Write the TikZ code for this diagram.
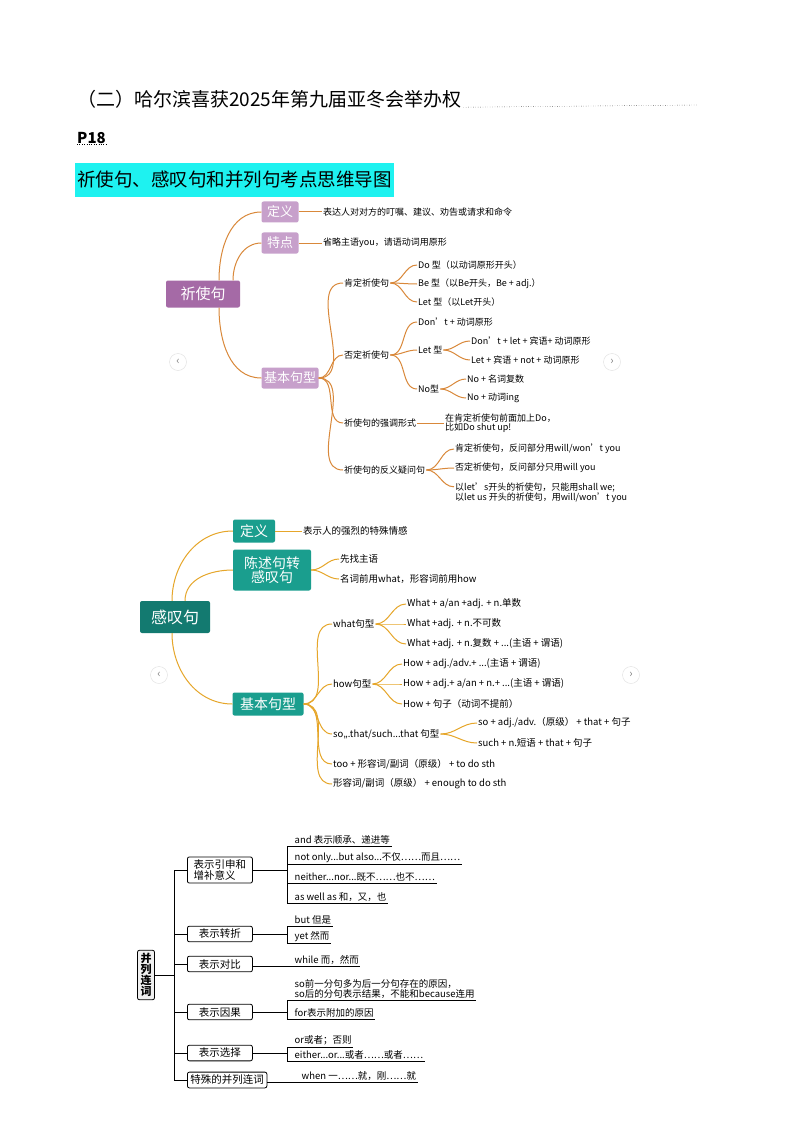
\documentclass[tikz,border=0pt]{standalone}
\usepackage{fontspec}
\setmainfont{Noto Sans CJK SC}
\definecolor{qpurple}{HTML}{A56AA6}
\definecolor{qlilac}{HTML}{C7A0CB}
\definecolor{qorange}{HTML}{D9883A}
\definecolor{gteal}{HTML}{1A9E8E}
\definecolor{gdark}{HTML}{137A70}
\definecolor{ggold}{HTML}{E6A62A}
\definecolor{hcyan}{HTML}{1EF2F0}
\newcommand{\fs}[1]{\fontsize{#1}{#1}\selectfont}
\newcommand{\ap}{\char"0027{}}
\tikzset{
  proot/.style={fill=qpurple,rounded corners=2pt,text=white,minimum width=74,minimum height=27,font=\fs{15}},
  pbox/.style={fill=qlilac,rounded corners=2pt,text=white,minimum width=37,minimum height=21,inner sep=1pt,font=\fs{13}},
  groot/.style={fill=gdark,rounded corners=2pt,text=white,minimum width=70,minimum height=32,font=\fs{16}},
  gbox/.style={fill=gteal,rounded corners=2pt,text=white,minimum width=42,minimum height=23,inner sep=2pt,font=\fs{14},align=center},
  leaf/.style={anchor=west,inner sep=1pt,font=\fs{9},align=left},
  gleaf/.style={anchor=west,inner sep=1pt,font=\fs{9.5},align=left},
  qline/.style={draw=qorange,line width=1pt},
  gline/.style={draw=ggold,line width=1pt},
  sbox/.style={draw,rounded corners=2pt,line width=0.8pt,inner sep=3pt,minimum width=65,font=\fs{10.5},align=left},
  sleaf/.style={anchor=south west,inner sep=1.5pt,font=\fs{9.5},align=left},
  chev/.style={circle,draw=gray!25,minimum size=17,inner sep=0pt,text=gray,font=\fs{11}}
}
\begin{document}
\begin{tikzpicture}[x=1pt,y=-1pt]
\useasboundingbox[fill=white] (0,0) rectangle (794,1123);

% header
\node[anchor=west,inner sep=0pt,font=\fs{19}] (ttl) at (77,99) {（二）哈尔滨喜获2025年第九届亚冬会举办权};
\draw[dotted] (ttl.south east) ++(2,-1) -- (697,105);
\node[anchor=west,inner sep=0pt,font=\bfseries\fs{15}] (page) at (77,138) {P18};
\draw[dotted] (page.south west) -- (page.south east);
\node[anchor=west,fill=hcyan,minimum height=34,inner sep=2pt,font=\fs{18.5}] (head) at (75,180) {祈使句、感叹句和并列句考点思维导图};

% imperative sentences
\node[proot] (qs) at (203,294) {祈使句};
\node[pbox] (qdef) at (280,212) {定义};
\node[pbox] (qfeat) at (280,243) {特点};
\node[pbox,minimum width=57] (qbase) at (290,378) {基本句型};
\node[leaf] (qdeft) at (322,212) {表达人对对方的叮嘱、建议、劝告或请求和命令};
\node[leaf] (qfeatt) at (322,243) {省略主语you，请语动词用原形};
\draw[qline] ([xshift=16]qs.north) to[out=90,in=180] (qdef.west);
\draw[qline] ([xshift=30]qs.north) to[out=90,in=180] (qfeat.west);
\draw[qline] ([xshift=16]qs.south) to[out=-90,in=180] (qbase.west);
\draw[qline] (qdef.east) -- (qdeft.west);
\draw[qline] (qfeat.east) -- (qfeatt.west);

\node[leaf] (qpos) at (343,283) {肯定祈使句};
\node[leaf] (qneg) at (343,355) {否定祈使句};
\node[leaf] (qemph) at (343,423) {祈使句的强调形式};
\node[leaf] (qtag) at (343,470) {祈使句的反义疑问句};
\foreach \n in {qpos,qneg,qemph,qtag}
  \draw[qline] (qbase.east) to[out=0,in=180] (\n.west);

\node[leaf] (qdo) at (417,265) {Do 型（以动词原形开头）};
\node[leaf] (qbe) at (417,284) {Be 型（以Be开头，Be + adj.）};
\node[leaf] (qlet) at (417,302) {Let 型（以Let开头）};
\foreach \n in {qdo,qbe,qlet}
  \draw[qline] (qpos.east) to[out=0,in=180] (\n.west);

\node[leaf] (qdont) at (417,322) {Don\ap t + 动词原形};
\node[leaf] (qnlet) at (417,350) {Let 型};
\node[leaf] (qno) at (417,389) {No型};
\foreach \n in {qdont,qnlet,qno}
  \draw[qline] (qneg.east) to[out=0,in=180] (\n.west);
\node[leaf] (qlet1) at (470,341) {Don\ap t + let + 宾语+ 动词原形};
\node[leaf] (qlet2) at (470,360) {Let + 宾语 + not + 动词原形};
\node[leaf] (qno1) at (466,379) {No + 名词复数};
\node[leaf] (qno2) at (466,398) {No + 动词ing};
\foreach \n in {qlet1,qlet2}
  \draw[qline] (qnlet.east) to[out=0,in=180] (\n.west);
\foreach \n in {qno1,qno2}
  \draw[qline] (qno.east) to[out=0,in=180] (\n.west);

\node[leaf] (qemt) at (444,423) {在肯定祈使句前面加上Do，\\比如Do shut up!};
\draw[qline] (qemph.east) -- (qemt.west);
\node[leaf] (qt1) at (454,449) {肯定祈使句，反问部分用will/won\ap t you};
\node[leaf] (qt2) at (454,468) {否定祈使句，反问部分只用will you};
\node[leaf] (qt3) at (454,493) {以let\ap s开头的祈使句，只能用shall we;\\以let us 开头的祈使句，用will/won\ap t you};
\foreach \n in {qt1,qt2}
  \draw[qline] (qtag.east) to[out=0,in=180] (\n.west);
\draw[qline] (qtag.east) to[out=0,in=180] ([yshift=-5]qt3.north west);
\node[chev] (qprev) at (178,362) {‹};
\node[chev] (qnext) at (612,362) {›};

% exclamatory sentences
\node[groot] (gs) at (175,617) {感叹句};
\node[gbox] (gdef) at (254,531) {定义};
\node[gbox,minimum width=78,minimum height=41] (gconv) at (272,570) {陈述句转\\感叹句};
\node[gbox,minimum width=71] (gbase) at (268,704) {基本句型};
\draw[gline] ([xshift=-3]gs.north) to[out=90,in=180] (gdef.west);
\draw[gline] ([xshift=10]gs.north) to[out=90,in=180] (gconv.west);
\draw[gline] ([xshift=-3]gs.south) to[out=-90,in=180] (gbase.west);
\node[gleaf] (gdeft) at (302,531) {表示人的强烈的特殊情感};
\draw[gline] (gdef.east) -- (gdeft.west);
\node[gleaf] (gc1) at (339,559) {先找主语};
\node[gleaf] (gc2) at (339,579) {名词前用what，形容词前用how};
\foreach \n in {gc1,gc2}
  \draw[gline] (gconv.east) to[out=0,in=180] (\n.west);

\node[gleaf] (gwhat) at (332,624) {what句型};
\node[gleaf] (ghow) at (332,684) {how句型};
\node[gleaf] (gso) at (332,734) {so,,.that/such...that 句型};
\node[gleaf] (gtoo) at (332,764) {too + 形容词/副词（原级） + to do sth};
\node[gleaf] (genou) at (332,784) {形容词/副词（原级） + enough to do sth};
\foreach \n in {gwhat,ghow,gso,gtoo,genou}
  \draw[gline] (gbase.east) to[out=0,in=180] (\n.west);
\node[gleaf] (gw1) at (406,604) {What + a/an +adj. + n.单数};
\node[gleaf] (gw2) at (406,624) {What +adj. + n.不可数};
\node[gleaf] (gw3) at (406,644) {What +adj. + n.复数 + ...(主语 + 谓语)};
\foreach \n in {gw1,gw2,gw3}
  \draw[gline] (gwhat.east) to[out=0,in=180] (\n.west);
\node[gleaf] (gh1) at (402,664) {How + adj./adv.+ ...(主语 + 谓语)};
\node[gleaf] (gh2) at (402,684) {How + adj.+ a/an + n.+ ...(主语 + 谓语)};
\node[gleaf] (gh3) at (402,704) {How + 句子（动词不提前）};
\foreach \n in {gh1,gh2,gh3}
  \draw[gline] (ghow.east) to[out=0,in=180] (\n.west);
\node[gleaf] (gs1) at (477,723) {so + adj./adv.（原级） + that + 句子};
\node[gleaf] (gs2) at (477,743) {such + n.短语 + that + 句子};
\foreach \n in {gs1,gs2}
  \draw[gline] (gso.east) to[out=0,in=180] (\n.west);
\node[chev] (gprev) at (159,675) {‹};
\node[chev] (gnext) at (631,675) {›};

% coordinating conjunctions
\node[draw,fill=gray!12,rounded corners=2pt,line width=0.8pt,inner sep=3pt,align=center,font=\bfseries\fs{11}] (cj) at (146,975) {并\\列\\连\\词};
\node[sbox,anchor=west] (c1) at (187,870) {表示引申和\\增补意义};
\node[sbox,anchor=west] (c2) at (187,934) {表示转折};
\node[sbox,anchor=west] (c3) at (187,964) {表示对比};
\node[sbox,anchor=west] (c4) at (187,1012) {表示因果};
\node[sbox,anchor=west] (c5) at (187,1053) {表示选择};
\node[sbox,anchor=west] (c6) at (187,1080) {特殊的并列连词};
\coordinate (trunk) at (174,975);
\draw[line width=0.8pt] (cj.east) -- (trunk);
\draw[line width=0.8pt] (c1.west -| trunk) -- (c6.west -| trunk);
\foreach \n in {c1,c2,c3,c4,c5,c6}
  \draw[line width=0.8pt] (\n.west -| trunk) -- (\n.west);

\node[sleaf] (a1) at (293,846) {and 表示顺承、递进等};
\node[sleaf] (a2) at (293,864) {not only...but also...不仅……而且……};
\node[sleaf] (a3) at (293,883) {neither...nor...既不……也不……};
\node[sleaf] (a4) at (293,903) {as well as 和，又，也};
\node[sleaf] (b1) at (293,926) {but 但是};
\node[sleaf] (b2) at (293,943) {yet 然而};
\node[sleaf] (d1) at (293,966) {while 而，然而};
\node[sleaf] (e1) at (293,1000) {so前一分句多为后一分句存在的原因，\\so后的分句表示结果，不能和because连用};
\node[sleaf] (e2) at (293,1019) {for表示附加的原因};
\node[sleaf] (f1) at (293,1047) {or或者；否则};
\node[sleaf] (f2) at (293,1061) {either...or...或者……或者……};
\node[sleaf] (h1) at (300,1082) {when 一……就，刚……就};
\foreach \n in {a1,a2,a3,a4,b1,b2,e1,e2,f1,f2}
  \draw[line width=0.6pt] ([xshift=-6]\n.south west) -- (\n.south east);
\draw[line width=0.6pt] ([xshift=-6]a1.south west) -- ([xshift=-6]a4.south west);
\draw[line width=0.6pt] ([xshift=-6]b1.south west) -- ([xshift=-6]b2.south west);
\draw[line width=0.6pt] ([xshift=-6]e1.south west) -- ([xshift=-6]e2.south west);
\draw[line width=0.6pt] ([xshift=-6]f1.south west) -- ([xshift=-6]f2.south west);
\draw[line width=0.8pt] (c1.east) -- ([xshift=-6]c1.east -| a1.south west);
\draw[line width=0.8pt] (c2.east) -- ([xshift=-6]c2.east -| b1.south west);
\draw[line width=0.8pt] (c3.east |- d1.south) -- (d1.south east);
\draw[line width=0.8pt] (c4.east) -- ([xshift=-6]c4.east -| e1.south west);
\draw[line width=0.8pt] (c5.east) -- ([xshift=-6]c5.east -| f1.south west);
\draw[line width=0.8pt] (c6.east |- h1.south) -- (h1.south east);
\end{tikzpicture}
\end{document}
